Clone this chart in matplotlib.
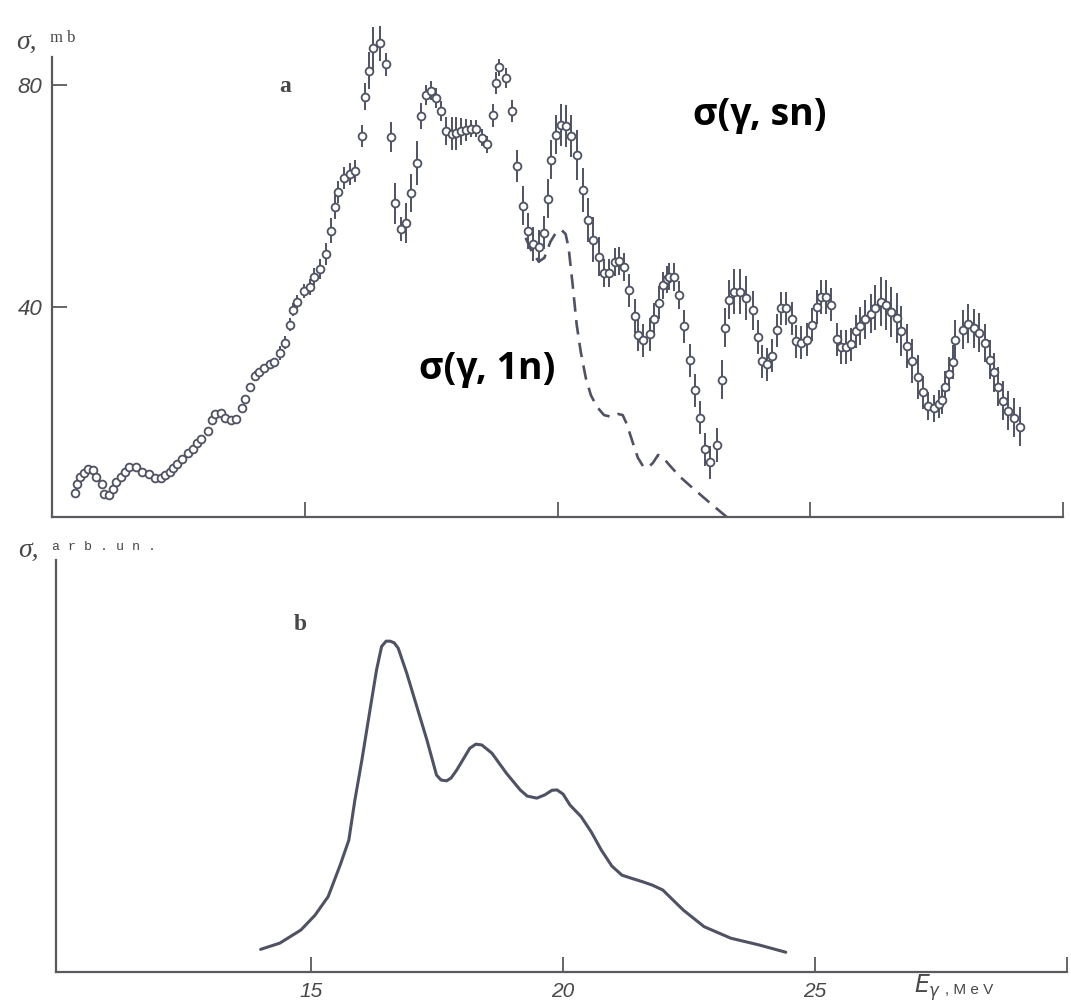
import matplotlib.pyplot as plt

# ---------------------------------------------------------------------------
# panel a: sigma(gamma, sn) points, MeV / mb / mb
# ---------------------------------------------------------------------------
E_sn = [
    10.46, 10.50, 10.55, 10.63, 10.72, 10.82, 10.88, 10.98, 11.02, 11.13,
    11.20, 11.26, 11.36, 11.44, 11.53, 11.67, 11.79, 11.91, 12.04, 12.15,
    12.24, 12.33, 12.40, 12.48, 12.58, 12.69, 12.78, 12.87, 12.95, 13.08,
    13.17, 13.23, 13.34, 13.42, 13.54, 13.64, 13.75, 13.82, 13.92, 14.02,
    14.10, 14.20, 14.31, 14.40, 14.51, 14.60, 14.70, 14.77, 14.85, 14.99,
    15.10, 15.19, 15.31, 15.42, 15.51, 15.60, 15.66, 15.78, 15.89, 15.99,
    16.13, 16.19, 16.28, 16.36, 16.49, 16.61, 16.70, 16.78, 16.90, 17.00,
    17.11, 17.23, 17.29, 17.39, 17.49, 17.60, 17.70, 17.80, 17.91, 18.00,
    18.10, 18.19, 18.28, 18.38, 18.51, 18.61, 18.72, 18.79, 18.85, 18.99,
    19.10, 19.20, 19.31, 19.41, 19.52, 19.63, 19.74, 19.81, 19.88, 19.97,
    20.07, 20.17, 20.27, 20.39, 20.50, 20.60, 20.70, 20.82, 20.92, 21.02,
    21.14, 21.22, 21.31, 21.41, 21.53, 21.59, 21.70, 21.82, 21.91, 22.00,
    22.09, 22.16, 22.21, 22.30, 22.41, 22.50, 22.63, 22.72, 22.82, 22.91,
    23.02, 23.15, 23.25, 23.31, 23.39, 23.50, 23.61, 23.73, 23.86, 23.96,
    24.04, 24.14, 24.25, 24.34, 24.42, 24.52, 24.64, 24.72, 24.82, 24.93,
    25.04, 25.14, 25.22, 25.31, 25.41, 25.53, 25.61, 25.71, 25.81, 25.90,
    25.99, 26.08, 26.20, 26.28, 26.40, 26.49, 26.59, 26.71, 26.80, 26.92,
    27.01, 27.13, 27.23, 27.33, 27.44, 27.54, 27.61, 27.67, 27.74, 27.82,
    27.87, 28.03, 28.12, 28.24, 28.34, 28.46, 28.56, 28.63, 28.72, 28.82,
    28.92, 29.03, 29.14,
]
sig_sn = [
    6.4, 7.9, 9.3, 10.0, 10.7, 10.4, 9.3, 7.9, 6.2, 6.0,
    7.1, 8.4, 9.3, 10.2, 11.0, 11.0, 10.2, 9.8, 9.1, 9.0,
    9.5, 10.2, 10.8, 11.5, 12.5, 13.6, 14.3, 15.3, 16.0, 17.6,
    19.5, 20.6, 20.8, 19.8, 19.5, 19.7, 21.6, 23.3, 25.4, 27.5,
    28.1, 28.9, 29.6, 29.9, 31.6, 33.5, 36.7, 39.4, 40.9, 42.8,
    43.5, 45.4, 46.7, 49.5, 53.7, 58.0, 60.6, 63.2, 63.9, 64.4,
    70.8, 77.9, 82.6, 86.6, 87.5, 83.7, 70.6, 58.6, 54.0, 55.1,
    60.5, 65.9, 74.4, 78.2, 79.0, 77.7, 75.3, 71.7, 71.2, 71.3,
    71.6, 71.9, 72.1, 72.1, 70.5, 69.3, 74.5, 80.4, 83.2, 81.2,
    75.3, 65.3, 58.2, 53.6, 51.3, 50.8, 53.3, 59.5, 66.5, 71.0,
    72.8, 72.6, 70.8, 67.4, 61.0, 55.6, 52.1, 49.0, 46.0, 46.1,
    48.1, 48.2, 47.1, 42.9, 38.3, 34.9, 33.9, 35.0, 37.7, 40.7,
    43.8, 44.9, 45.4, 45.3, 42.1, 36.4, 30.3, 24.9, 19.9, 14.2,
    11.9, 15.0, 26.8, 36.2, 41.2, 42.7, 42.7, 41.6, 39.3, 34.5,
    30.1, 29.6, 31.1, 35.7, 39.7, 39.7, 37.8, 33.7, 33.5, 34.0,
    36.7, 39.9, 41.7, 41.7, 40.3, 34.1, 32.7, 32.7, 33.2, 35.5,
    36.5, 37.7, 38.7, 39.8, 40.9, 40.2, 39.0, 37.9, 35.6, 32.9,
    30.2, 27.3, 24.5, 22.1, 21.6, 22.4, 23.1, 25.4, 27.8, 30.0,
    34.0, 35.8, 36.9, 36.1, 35.3, 33.4, 30.4, 28.1, 25.5, 23.0,
    21.2, 19.9, 18.3,
]
err_sn = [
    0, 0, 0, 0, 0, 0, 0, 0, 0, 0,
    0, 0, 0, 0, 0, 0, 0, 0, 0, 0,
    0, 0, 0, 0, 0, 0, 0, 0, 0, 0,
    0, 0, 0, 0, 0, 0, 0.8, 0.8, 0.8, 0.8,
    0.8, 0.8, 0.8, 0.8, 1.2, 1.2, 1.2, 1.2, 1.2, 1.2,
    1.5, 1.5, 1.8, 2.0, 2.2, 2.2, 2.0, 2.0, 2.0, 2.0,
    2.0, 2.4, 3.3, 3.9, 3.2, 2.0, 2.7, 3.7, 2.1, 3.6,
    3.5, 3.9, 2.3, 1.8, 1.8, 1.8, 1.8, 2.5, 3.0, 3.0,
    2.5, 2.0, 1.5, 1.5, 1.5, 1.5, 2.0, 2.0, 1.5, 1.8,
    2.0, 2.9, 3.5, 3.2, 3.0, 3.0, 3.0, 3.5, 3.5, 3.5,
    3.8, 3.8, 3.8, 4.5, 4.0, 4.0, 4.0, 3.5, 2.5, 2.5,
    2.5, 2.5, 2.5, 3.0, 3.0, 3.0, 3.0, 3.0, 3.0, 3.0,
    2.5, 2.5, 2.5, 2.5, 2.5, 3.0, 3.0, 3.0, 3.0, 3.0,
    3.0, 3.0, 3.5, 3.5, 3.5, 4.0, 4.0, 4.0, 3.5, 3.0,
    3.0, 3.0, 3.0, 3.0, 3.0, 3.0, 3.0, 3.0, 3.0, 3.0,
    3.0, 3.0, 3.0, 3.0, 3.0, 3.0, 3.0, 3.0, 3.0, 3.0,
    3.5, 3.5, 3.5, 4.0, 4.5, 4.5, 4.5, 4.5, 4.5, 4.0,
    4.0, 4.0, 3.0, 2.5, 2.5, 2.5, 2.5, 3.0, 3.0, 3.0,
    3.5, 3.5, 3.5, 3.5, 3.5, 3.5, 3.5, 3.5, 3.5, 3.5,
    3.5, 3.5, 3.5,
]

# panel a: sigma(gamma, 1n), dashed curve
E_1n = [19.37, 19.49, 19.63, 19.74, 19.86, 19.98, 20.08, 20.16, 20.22, 20.30,
        20.38, 20.46, 20.56, 20.66, 20.78, 20.92, 21.06, 21.20, 21.29, 21.37,
        21.49, 21.59, 21.69, 21.79, 21.89, 21.99, 22.09, 22.23, 22.43, 22.69,
        22.97, 23.23, 23.35]
sig_1n = [52.4, 49.9, 48.1, 48.8, 51.7, 53.5, 53.8, 53.1, 50.6, 43.9,
          36.7, 31.8, 27.1, 24.0, 21.9, 20.4, 20.1, 20.6, 20.4, 18.8,
          15.4, 12.7, 11.2, 10.9, 11.8, 13.2, 12.7, 11.2, 9.2, 7.1,
          4.9, 2.9, 2.0]

# panel b: sigma, arb. units
E_b = [14.00, 14.38, 14.80, 15.08, 15.34, 15.58, 15.75, 15.87, 16.01, 16.17,
       16.30, 16.40, 16.49, 16.57, 16.65, 16.73, 16.90, 17.10, 17.30, 17.49,
       17.58, 17.69, 17.78, 17.89, 18.15, 18.27, 18.39, 18.59, 18.88, 19.15,
       19.29, 19.48, 19.64, 19.78, 19.88, 20.00, 20.14, 20.36, 20.56, 20.76,
       20.97, 21.17, 21.37, 21.58, 21.77, 21.98, 22.18, 22.39, 22.80, 23.33,
       23.88, 24.42]
sig_b = [0.055, 0.070, 0.102, 0.138, 0.183, 0.260, 0.320, 0.417, 0.515, 0.636,
         0.733, 0.790, 0.803, 0.803, 0.799, 0.786, 0.725, 0.644, 0.563, 0.478,
         0.466, 0.464, 0.471, 0.490, 0.543, 0.553, 0.551, 0.531, 0.482, 0.442,
         0.427, 0.422, 0.430, 0.441, 0.442, 0.432, 0.405, 0.377, 0.340, 0.296,
         0.257, 0.235, 0.227, 0.219, 0.211, 0.199, 0.175, 0.150, 0.110, 0.082,
         0.066, 0.048]

W, H = 1071, 1005
INK = "#4f5262"
AXIS = "#5a5a5e"
TXT = "#484848"


def fx(px):
    return px / W


def fy(py):
    return 1 - py / H


def style_axes(ax):
    for side in ("top", "right"):
        ax.spines[side].set_visible(False)
    for side in ("left", "bottom"):
        ax.spines[side].set_color(AXIS)
        ax.spines[side].set_linewidth(1.6)
    ax.patch.set_visible(False)
    ax.tick_params(direction="in", length=11, width=1.3, color=AXIS,
                   labelcolor=TXT)


fig = plt.figure(figsize=(W / 100, H / 100), dpi=100)

# ---- panel a --------------------------------------------------------------
ax_a = fig.add_axes([fx(52), fy(517), fx(1063) - fx(52), fy(18.5) - fy(517)])
style_axes(ax_a)
ax_a.set_xlim(10, 30)
ax_a.set_ylim(2, 92)
ax_a.spines["left"].set_bounds(2, 85)
ax_a.set_xticks([15, 20, 25, 30])
ax_a.set_xticklabels([])
ax_a.set_yticks([40, 80])
ax_a.set_yticklabels(["40", "80"], fontsize=16, style="italic",
                     family="Liberation Sans")
ax_a.tick_params(axis="y", pad=7)

ax_a.plot(E_1n, sig_1n, color=INK, lw=1.9, ls=(0, (5.5, 3.2)),
          dash_capstyle="butt", zorder=2)
ax_a.errorbar(E_sn, sig_sn, yerr=err_sn, fmt="o", ms=5.6, mfc="white",
              mec=INK, mew=1.3, ecolor=INK, elinewidth=1.4, capsize=0,
              zorder=3, clip_on=False)

fig.text(fx(16), fy(42), "σ,", fontsize=20, style="italic",
         family="Liberation Serif", color=TXT, ha="left", va="center")
fig.text(fx(50), fy(38), "m b", fontsize=12, family="Liberation Serif",
         color=TXT, ha="left", va="center")
fig.text(fx(285), fy(87), "a", fontsize=17, fontweight="bold",
         family="Liberation Serif", color=TXT, ha="center", va="center")
fig.text(fx(760), fy(115), "σ(γ, sn)", fontsize=27, fontweight="bold",
         family="Open Sans", color="black", ha="center", va="center")
fig.text(fx(487), fy(369), "σ(γ, 1n)", fontsize=27, fontweight="bold",
         family="Open Sans", color="black", ha="center", va="center")

# ---- panel b --------------------------------------------------------------
ax_b = fig.add_axes([fx(56), fy(972), fx(1067) - fx(56), fy(560) - fy(972)])
style_axes(ax_b)
ax_b.set_xlim(9.94, 30)
ax_b.set_ylim(0, 1)
ax_b.set_yticks([])
ax_b.set_xticks([15, 20, 25, 30])
ax_b.set_xticklabels(["15", "20", "25", ""], fontsize=15, style="italic",
                     family="Liberation Sans")
ax_b.tick_params(axis="x", pad=7)

ax_b.plot(E_b, sig_b, color=INK, lw=2.2, solid_capstyle="round",
          solid_joinstyle="round")

fig.text(fx(18), fy(550), "σ,", fontsize=20, style="italic",
         family="Liberation Serif", color=TXT, ha="left", va="center")
fig.text(fx(52), fy(547), "a r b . u n .", fontsize=9.5,
         family="Liberation Mono", color=TXT, ha="left", va="center")
fig.text(fx(300), fy(624), "b", fontsize=17, fontweight="bold",
         family="Liberation Serif", color=TXT, ha="center", va="center")
fig.text(fx(914), fy(988), r"$E_\gamma$", fontsize=17, color=TXT,
         ha="left", va="center")
fig.text(fx(945), fy(990), ", M e V", fontsize=11, color=TXT,
         family="Liberation Sans", ha="left", va="center")

fig.savefig("out.png", dpi=100)
